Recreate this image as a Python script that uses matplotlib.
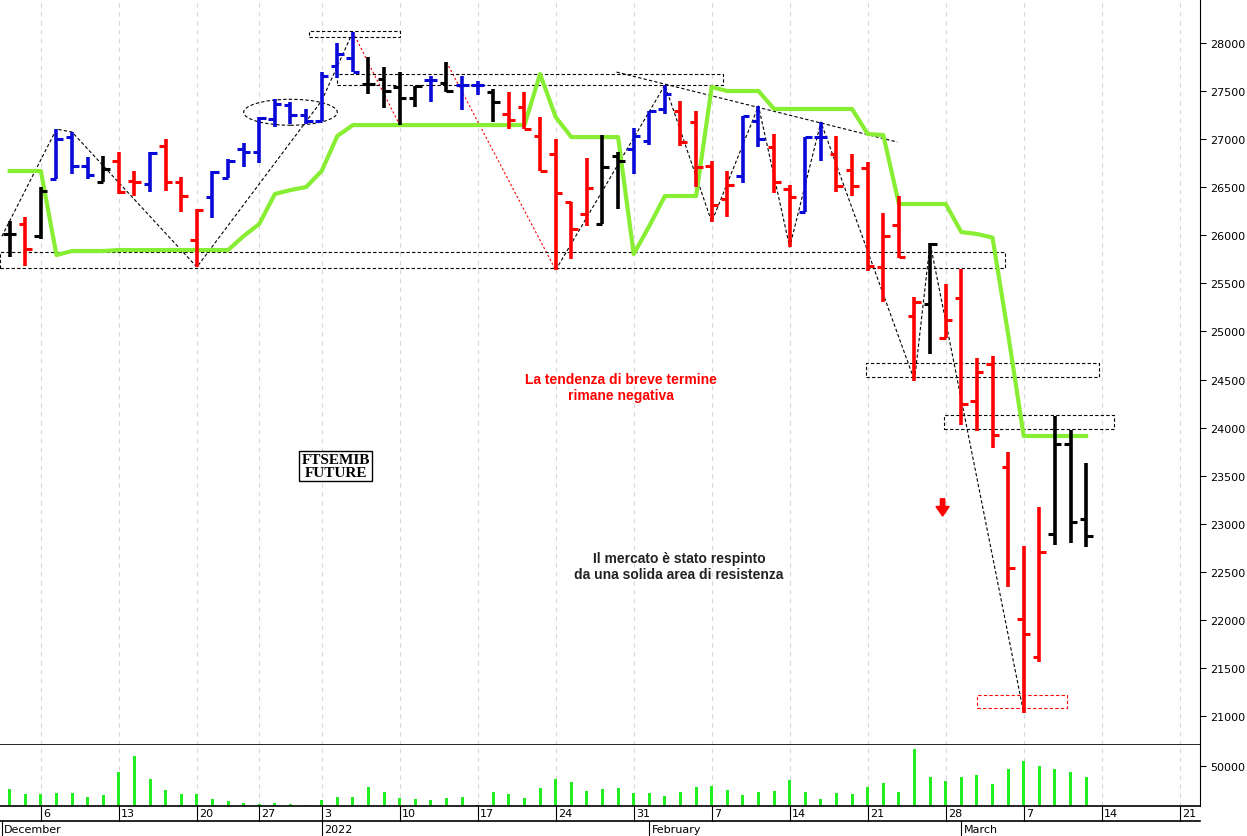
import numpy as np
import matplotlib.pyplot as plt
from matplotlib.patches import Rectangle, Ellipse, FancyArrow
import matplotlib.transforms as mtransforms

# daily OHLC, one entry per trading day (2 Dec 2021 .. 11 Mar 2022)
opens = [26010, 26118, 25993, 26586, 27022, 26721, 26555, 26773, 26565, 26534,
         26929, 26555, 25951, 26398, 26596, 26898, 26866, 27210, 27355, 27251,
         27189, 27761, 27844, 27574, 27626, 27542, 27428, 27615, 27584, 27563,
         27563, 27490, 27262, 27334, 27033, 26846, 26346, 26222, 26118, 26825,
         26898, 26981, 27314, 27293, 27178, 26721, 26378, 26617, 27189, 26918,
         26482, 26242, 27022, 26846, 26679, 26700, 25670, 26107, 25161, 25286,
         24937, 25348, 24282, 24661, 23590, 22010, 21614, 22894, 23830, 23050]
highs = [26149, 26190, 26502, 27105, 27074, 26814, 26825, 26866, 26669, 26866,
         27002, 26606, 26274, 26669, 26794, 26960, 27230, 27418, 27386, 27314,
         27698, 28000, 28114, 27854, 27750, 27698, 27553, 27657, 27802, 27657,
         27605, 27522, 27490, 27490, 27230, 27002, 26346, 26804, 27043, 26866,
         27116, 27293, 27563, 27397, 27293, 26773, 26669, 27241, 27345, 27054,
         26523, 27022, 27178, 27033, 26850, 26762, 26232, 26409, 25358, 25920,
         25494, 25650, 24724, 24750, 23746, 22769, 23175, 24122, 23975, 23632]
lows = [25774, 25680, 25960, 26586, 26638, 26586, 26555, 26430, 26409, 26450,
        26461, 26242, 25670, 26180, 26596, 26710, 26752, 27126, 27157, 27157,
        27189, 27636, 27698, 27470, 27324, 27147, 27334, 27386, 27490, 27303,
        27459, 27178, 27106, 27106, 26669, 25639, 25754, 26097, 26118, 26274,
        26638, 26939, 27262, 26929, 26502, 26139, 26190, 26544, 26918, 26440,
        25878, 26242, 26773, 26450, 26410, 25629, 25306, 25764, 24490, 24766,
        24932, 24027, 23965, 23788, 22342, 21032, 21562, 22779, 22800, 22758]
closes = [26010, 25858, 26461, 27002, 26721, 26627, 26690, 26450, 26555, 26860,
          26555, 26409, 26264, 26658, 26773, 26866, 27220, 27366, 27251, 27189,
          27657, 27886, 27698, 27574, 27501, 27428, 27553, 27615, 27501, 27563,
          27563, 27386, 27199, 27106, 26669, 26440, 26066, 26492, 26710, 26773,
          27033, 27293, 27470, 26970, 26710, 26315, 26523, 27241, 27002, 26555,
          26398, 27022, 27022, 26513, 26510, 25681, 25993, 25774, 25306, 25910,
          25119, 24246, 24578, 23923, 22540, 21854, 22706, 23830, 23018, 22873]
bar_colors = list("krkbbbkrrbrrrbbbbbbbbbbkkkkbkbbkrrrrrrkkbbbrrrrbbrrbbrrrrrrkrrrrrrrkkk")
volumes = [21667, 14583, 14583, 16667, 15833, 11667, 13333, 42500, 62500, 33333,
           20000, 14583, 15417, 9167, 6250, 4167, 2083, 3333, 2917, 833,
           7500, 11667, 11250, 23750, 17500, 10000, 8333, 7917, 10000, 10833,
           1667, 17500, 14583, 10000, 22500, 33333, 30000, 18750, 21667, 22500,
           16667, 15833, 12083, 17500, 23750, 25000, 20000, 13750, 17500, 18750,
           32500, 17500, 9167, 15833, 14583, 23333, 29167, 17500, 71667, 36667,
           31250, 36250, 38750, 27917, 45833, 56250, 50000, 45833, 42917, 35833]
green_line = [26669, 26669, 26669, 25795, 25837, 25837, 25837, 25847, 25847, 25847,
              25847, 25847, 25847, 25847, 25847, 25993, 26118, 26430, 26471, 26502,
              26669, 27033, 27147, 27147, 27147, 27147, 27147, 27147, 27147, 27147,
              27147, 27147, 27147, 27147, 27678, 27230, 27022, 27022, 27022, 27022,
              25806, 26097, 26409, 26409, 26409, 27542, 27501, 27501, 27501, 27314,
              27314, 27314, 27314, 27314, 27314, 27054, 27043, 26326, 26326, 26326,
              26326, 26034, 26014, 25977, 24974, 23913, 23913, 23913, 23913, 23913]

monday_idx = [2, 7, 12, 16, 20, 25, 30, 35, 40, 45, 50, 55, 60, 65, 70, 75]
monday_lbl = ["6", "13", "20", "27", "3", "10", "17", "24", "31", "7", "14", "21", "28", "7", "14", "21"]
month_idx = [-0.5, 20, 41, 61]
month_lbl = ["December", "2022", "February", "March"]

zig_black = [(35, 25639), (42, 27563), (45, 26139), (48, 27345), (50, 25878),
             (52, 27178), (58, 24490), (59, 25920), (65, 21032)]
zig_left = [(-0.5, 25990), (3, 27105), (4, 27074), (12, 25670), (20, 27400), (22, 28114)]

n = len(opens)
idx = np.arange(n)
cmap = {"k": "black", "r": "#ff0000", "b": "#0a0ad8"}
cols = [cmap[c] for c in bar_colors]

fig = plt.figure(figsize=(12.47, 8.37), dpi=100)
ax = fig.add_axes([0, 0.1087, 0.9623, 0.8913])
axv = fig.add_axes([0, 0.0358, 0.9623, 0.0729], sharex=ax)
xlim = (-0.62, 76.3)

# gridlines
for a in (ax, axv):
    for m in monday_idx:
        a.axvline(m, color="#d8d8d8", lw=0.8, ls=(0, (4, 4)), zorder=0)

# OHLC bars
ax.vlines(idx, lows, highs, colors=cols, lw=2.6, zorder=3)
ax.hlines(opens, idx - 0.42, idx, colors=cols, lw=2.2, zorder=3)
ax.hlines(closes, idx, idx + 0.42, colors=cols, lw=2.2, zorder=3)

ax.plot(idx, green_line, color="#88ee33", lw=3, zorder=2)

# dashed zigzags
zx, zy = zip(*zig_black)
ax.plot(zx, zy, color="black", lw=0.8, ls=(0, (3, 2)), zorder=1)
zx, zy = zip(*zig_left)
ax.plot(zx, zy, color="black", lw=0.8, ls=(0, (3, 2)), zorder=1)
ax.plot([22, 25], [28114, 27147], color="red", lw=0.8, ls=(0, (2, 2)), zorder=1)
ax.plot([28, 35], [27802, 25639], color="red", lw=0.8, ls=(0, (2, 2)), zorder=1)
ax.plot([38.9, 56.9], [27698, 26970], color="black", lw=0.8, ls=(0, (3, 2)), zorder=1)

# dashed boxes
boxes = [(19.2, 28060, 5.8, 60, "black"), (21, 27563, 24.7, 117, "black"),
         (-0.6, 25660, 64.4, 170, "black"), (54.9, 24530, 14.9, 140, "black"),
         (59.9, 23990, 10.9, 140, "black"), (62, 21080, 5.8, 140, "red")]
for x0, y0, w, h, c in boxes:
    ax.add_patch(Rectangle((x0, y0), w, h, fill=False, ec=c, lw=0.8, ls=(0, (3, 2)), zorder=1))
ax.add_patch(Ellipse((18, 27280), 6, 270, fill=False, ec="black", lw=0.8, ls=(0, (3, 2))))

ax.text(39.2, 24420, "La tendenza di breve termine\nrimane negativa", color="#ff0000",
        fontsize=10, fontweight="bold", ha="center", va="center", family="Liberation Sans")
ax.text(42.9, 22560, "Il mercato è stato respinto\nda una solida area di resistenza", color="#222222",
        fontsize=10, fontweight="bold", ha="center", va="center", family="Liberation Sans")
ax.text(20.9, 23600, "FTSEMIB\nFUTURE", fontsize=11, fontweight="bold", ha="center", va="center",
        family="Liberation Serif", linespacing=0.95,
        bbox=dict(boxstyle="square,pad=0.15", fc="white", ec="black", lw=1))
ax.add_patch(FancyArrow(59.8, 23260, 0, -180, width=0.28, head_width=0.85, head_length=100,
                        length_includes_head=True, color="#ff0000"))

ax.set_xlim(*xlim)
ax.set_ylim(20699, 28458)
ax.yaxis.tick_right()
ax.set_yticks(np.arange(21000, 28001, 500))
ax.tick_params(axis="y", labelsize=8, length=4, pad=3)
ax.tick_params(axis="x", bottom=False, labelbottom=False)
for s in ("top", "left"):
    ax.spines[s].set_visible(False)
ax.spines["bottom"].set_linewidth(1.2)

axv.bar(idx, volumes, width=0.2, color="#22ee22")
axv.set_ylim(0, 76250)
axv.yaxis.tick_right()
axv.set_yticks([50000])
axv.tick_params(axis="y", labelsize=8, length=4)
axv.tick_params(axis="x", bottom=False, labelbottom=False)
axv.set_xlim(*xlim)
for s in ("top", "left"):
    axv.spines[s].set_visible(False)
axv.spines["bottom"].set_linewidth(1.2)

# date labels under the volume panel
trans = mtransforms.blended_transform_factory(axv.transData, fig.transFigure)
btrans = mtransforms.blended_transform_factory(axv.transData, axv.transAxes)
for m, l in zip(monday_idx, monday_lbl):
    axv.plot([m, m], [-0.25, 0], transform=btrans, color="black", lw=0.8, clip_on=False)
    fig.text(m + 0.15, 0.0275, l, transform=trans, fontsize=8, va="center")
for m, l in zip(month_idx, month_lbl):
    axv.plot([m, m], [-0.55, -0.25], transform=btrans, color="black", lw=0.8, clip_on=False)
    fig.text(m + 0.15, 0.008, l, transform=trans, fontsize=8, va="center")
fig.add_artist(plt.Line2D([0, 0.9623], [0.0185, 0.0185], color="black", lw=1.2))

fig.savefig("out.png", dpi=100)
